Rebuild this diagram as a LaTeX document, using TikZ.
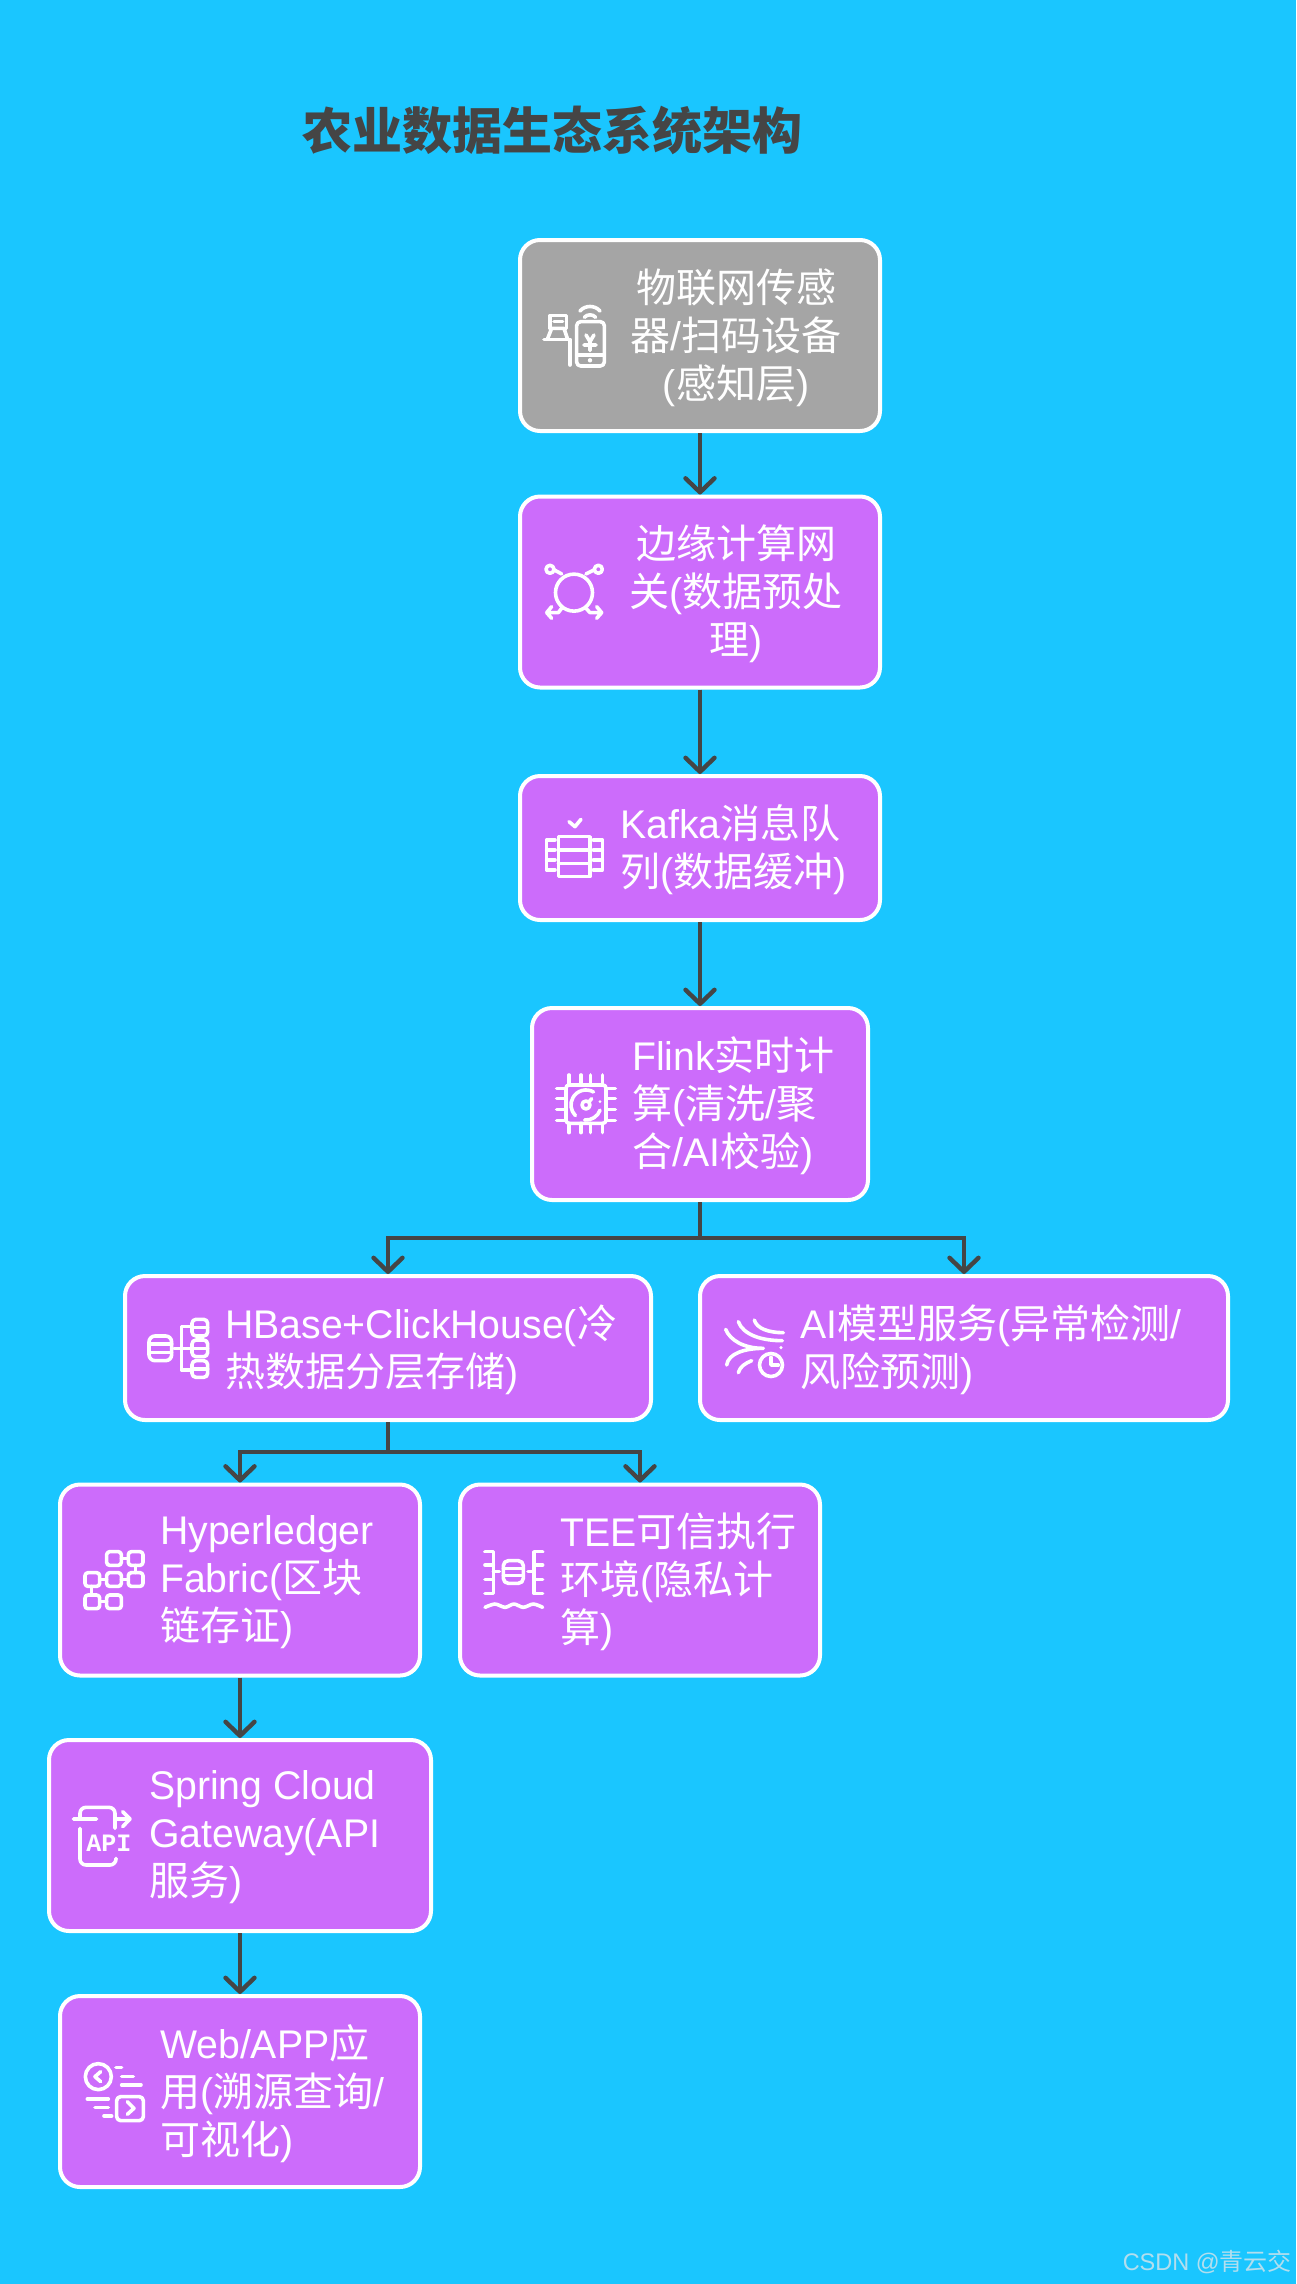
\documentclass[tikz,border=0pt]{standalone}
\usepackage{fontspec}
\setmainfont[FakeStretch=0.98]{Liberation Sans}
\newfontfamily\cjk{Noto Sans CJK SC}
\newfontfamily\apifont{Liberation Mono}
\newcommand{\zh}[1]{{\cjk #1}}
\usetikzlibrary{arrows.meta,positioning}
\definecolor{skyback}{HTML}{1AC6FF}
\definecolor{layerpurple}{HTML}{CC6CFB}
\definecolor{layergrey}{HTML}{A5A5A5}
\definecolor{flowgrey}{HTML}{454545}
\definecolor{markgrey}{HTML}{B2DEEE}

\begin{document}
\begin{tikzpicture}[x=1pt,y=-1pt]
\tikzstyle{layer}=[draw=white,line width=4pt,fill=layerpurple,rounded corners=20pt,inner sep=0pt]
\tikzstyle{label}=[text=white,inner sep=0pt,align=left,yshift=-2pt,font=\fontsize{40}{48}\selectfont]
\tikzstyle{flow}=[draw=flowgrey,line width=4.4pt,-{Straight Barb[round,length=14pt,width=29pt]}]
\tikzstyle{glyph}=[white,line width=3.6pt,line cap=round,line join=round,x=0.3333pt,y=-0.3333pt]
\fill[skyback] (0,0) rectangle (1296,2284);
\useasboundingbox (0,0) rectangle (1296,2284);

\node[text=flowgrey,inner sep=0pt,font=\fontsize{50}{60}\selectfont\cjk\bfseries] (title) at (552,130) {农业数据生态系统架构};

\node[layer,fill=layergrey,minimum width=360pt,minimum height=191pt] (sensor) at (700,335.5) {};
\node[layer,minimum width=360pt,minimum height=191pt] (gateway) at (700,592) {};
\node[layer,minimum width=360pt,minimum height=144pt] (kafka) at (700,848) {};
\node[layer,minimum width=336pt,minimum height=192pt] (flink) at (700,1104) {};
\node[layer,minimum width=526pt,minimum height=144pt] (hbase) at (388,1348) {};
\node[layer,minimum width=528pt,minimum height=144pt] (model) at (964,1348) {};
\node[layer,minimum width=360pt,minimum height=191pt] (ledger) at (240,1580) {};
\node[layer,minimum width=360pt,minimum height=191pt] (tee) at (640,1580) {};
\node[layer,minimum width=382pt,minimum height=191pt] (spring) at (240,1835.5) {};
\node[layer,minimum width=360pt,minimum height=191pt] (webapp) at (240,2091.5) {};

\node[label,align=center] (sensorText) at ([xshift=36pt]sensor.center) {\zh{物联网传感}\\\zh{器}/\zh{扫码设备}\\(\zh{感知层})};
\node[label,align=center] (gatewayText) at ([xshift=36pt]gateway.center) {\zh{边缘计算网}\\\zh{关}(\zh{数据预处}\\\zh{理})};
\node[label,right=102pt of kafka.west] (kafkaText) {Kafka\zh{消息队}\\\zh{列}(\zh{数据缓冲})};
\node[label,right=102pt of flink.west] (flinkText) {Flink\zh{实时计}\\\zh{算}(\zh{清洗}/\zh{聚}\\\zh{合}/AI\zh{校验})};
\node[label,right=102pt of hbase.west] (hbaseText) {HBase+ClickHouse(\zh{冷}\\\zh{热数据分层存储})};
\node[label,right=102pt of model.west] (modelText) {AI\zh{模型服务}(\zh{异常检测}/\\\zh{风险预测})};
\node[label,right=102pt of ledger.west] (ledgerText) {Hyperledger\\Fabric(\zh{区块}\\\zh{链存证})};
\node[label,right=102pt of tee.west] (teeText) {TEE\zh{可信执行}\\\zh{环境}(\zh{隐私计}\\\zh{算})};
\node[label,right=102pt of spring.west] (springText) {Spring Cloud\\Gateway(API\\\zh{服务})};
\node[label,right=102pt of webapp.west] (webappText) {Web/APP\zh{应}\\\zh{用}(\zh{溯源查询}/\\\zh{可视化})};

\draw[flow] (sensor) -- (gateway);
\draw[flow] (gateway) -- (kafka);
\draw[flow] (kafka) -- (flink);
\draw[flow] (flink.south) -- ++(0,36) -| (hbase.north);
\draw[flow] (flink.south) -- ++(0,36) -| (model.north);
\draw[flow] (hbase.south) -- ++(0,30) -| (ledger.north);
\draw[flow] (hbase.south) -- ++(0,30) -| (tee.north);
\draw[flow] (ledger) -- (spring);
\draw[flow] (spring.south) -- (webapp);

% sensor icon
\begin{scope}[shift={(500,220)},glyph]
\draw[rounded corners=4pt] (230,305) rectangle (313,438);
\draw (230,405) -- (313,405) (258,345) -- (270,365) -- (282,345) (270,365) -- (270,392) (252,375) -- (288,375);
\fill (270,421) circle[radius=2.2pt];
\draw (240,273) .. controls (255,255) and (285,255) .. (300,273);
\draw (253,292) .. controls (262,282) and (278,282) .. (287,292);
\draw (132,358) -- (210,358) -- (210,435);
\draw (142,358) -- (155,325) -- (192,325) -- (203,358);
\draw (150,325) -- (150,287) -- (200,287) -- (200,325);
\draw (162,305) -- (188,305);
\end{scope}

% gateway icon
\begin{scope}[shift={(500,220)},glyph]
\draw (222,1118) circle[radius=18.5pt];
\draw (150,1048) circle[radius=4pt] (295,1048) circle[radius=4pt];
\draw (163,1050) -- (185,1062) (282,1050) -- (258,1062);
\draw (185,1165) -- (175,1178) -- (140,1178) (155,1160) -- (140,1178) -- (155,1195);
\draw (258,1165) -- (270,1178) -- (305,1178) (290,1160) -- (305,1178) -- (290,1195);
\end{scope}

% kafka icon
\begin{scope}[shift={(500,760)},glyph]
\draw (175,230) rectangle (270,350);
\draw (175,270) -- (270,270) (175,310) -- (270,310);
\draw (207,185) -- (225,200) -- (243,178);
\draw (165,240) -- (140,240) -- (140,330) -- (165,330) (140,270) -- (165,270) (140,300) -- (165,300);
\draw (280,240) -- (307,240) -- (307,330) -- (280,330) (280,270) -- (307,270) (280,300) -- (307,300);
\end{scope}

% flink icon
\begin{scope}[shift={(500,760)},glyph]
\draw[rounded corners=3pt] (198,975) rectangle (318,1090);
\foreach \px in {207,243,272,308} \draw (\px,945) -- (\px,975) (\px,1090) -- (\px,1118);
\foreach \py in {985,1015,1048,1082} \draw (170,\py) -- (198,\py) (318,\py) -- (346,\py);
\draw (280.5,996) arc[start angle=60,end angle=225,radius=15pt];
\draw (254,1080) arc[start angle=265,end angle=340,radius=15pt];
\draw (258,1035) circle[radius=4pt] (266,1027) -- (275,1016);
\fill (300,1025) circle[radius=1.6pt];
\end{scope}

% storage icon
\begin{scope}[shift={(110,1260)},glyph]
\draw[rounded corners=6pt] (117,228) rectangle (185,302);
\draw (117,252) -- (185,252) (117,277) -- (185,277);
\foreach \py in {178,240,302} {
	\draw[rounded corners=4pt] (246,\py) rectangle ++(47,50);
	\draw (246,\py+25) -- (293,\py+25);
}
\draw (240,200) -- (215,200) -- (215,330) -- (240,330) (192,265) -- (240,265);
\end{scope}

% model icon
\begin{scope}[shift={(705,1300)},glyph]
\draw (148,60) .. controls (155,85) and (190,98) .. (235,98);
\draw (100,65) .. controls (115,105) and (170,122) .. (232,122);
\draw (62,88) .. controls (75,120) and (115,145) .. (175,145) .. controls (120,145) and (70,160) .. (65,195);
\draw (100,218) .. controls (105,200) and (120,190) .. (140,182);
\fill (228,143) circle[radius=1.7pt];
\draw (198,195) circle[radius=11.5pt];
\draw (198,172) -- (198,195) -- (220,195);
\end{scope}

% ledger icon
\begin{scope}[shift={(70,1530)},glyph]
\foreach \px/\py in {110/65,175/65,45/128,110/128,175/128,45/195,110/195} \draw[rounded corners=3pt] (\px,\py) rectangle ++(44,41);
\draw (154,85) -- (175,85) (89,149) -- (110,149) (154,149) -- (175,149) (197,106) -- (197,128) (65,169) -- (65,195) (89,215) -- (110,215);
\end{scope}

% tee icon
\begin{scope}[shift={(470,1530)},glyph]
\draw (45,65) -- (70,65) -- (70,190) -- (45,190) (45,105) -- (70,105) (45,148) -- (70,148) (70,125) -- (88,125);
\draw (218,65) -- (192,65) -- (192,190) -- (218,190) (218,105) -- (192,105) (218,148) -- (192,148) (192,125) -- (174,125);
\draw[rounded corners=5pt] (100,92) rectangle (160,160);
\draw (100,115) -- (160,115) (100,137) -- (160,137);
\draw plot[smooth] coordinates {(45,232) (75,222) (105,232) (132,222) (160,232) (190,222) (218,232)};
\end{scope}

% api icon
\begin{scope}[shift={(30,1700)},glyph]
\draw[rounded corners=6pt] (150,357) -- (150,322) -- (255,322) -- (255,385);
\draw[rounded corners=6pt] (150,385) -- (150,495) -- (258,495) -- (258,475);
\draw (130,357) -- (200,357) (255,357) -- (300,357) (278,335) -- (300,357) -- (278,380);
\node[text=white,inner sep=0pt,font=\fontsize{25}{25}\selectfont\apifont\bfseries] (apiMark) at (237,431) {API};
\end{scope}

% web icon
\begin{scope}[shift={(30,1700)},glyph]
\draw (205,1130) circle[radius=13pt];
\draw (212,1115) -- (195,1130) -- (212,1145);
\draw (258,1102) -- (275,1102) (275,1130) -- (310,1130) (275,1155) -- (333,1155);
\draw (172,1197) -- (235,1197) (195,1222) -- (235,1222) (222,1248) -- (245,1248);
\draw[rounded corners=4pt] (260,1190) rectangle (340,1262);
\draw (292,1205) -- (312,1225) -- (292,1243);
\end{scope}

\node[text=markgrey,inner sep=0pt,anchor=east,font=\fontsize{24}{28}\selectfont] (watermark) at (1292,2262) {CSDN @\zh{青云交}};
\end{tikzpicture}
\end{document}
